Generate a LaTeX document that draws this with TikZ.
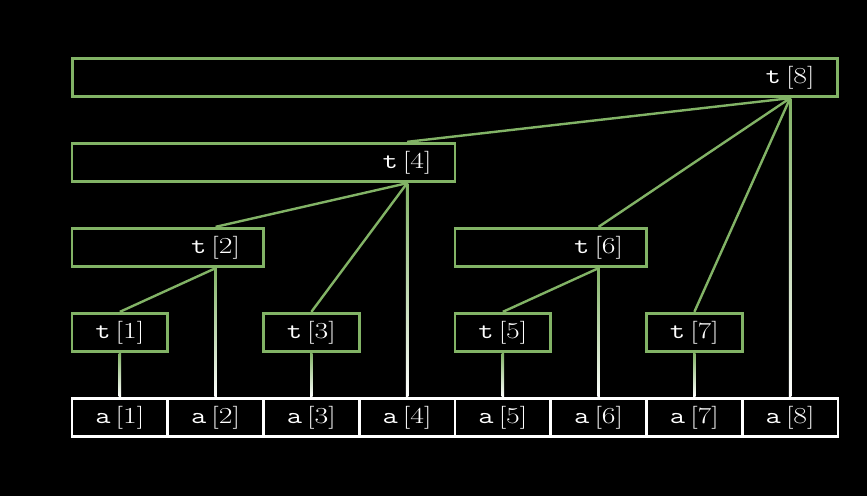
\documentclass[tikz,border=0pt]{standalone}
\usepackage{graphicx}
\begin{document}
\definecolor{tgreen}{HTML}{82B366}
\begin{tikzpicture}[x=1bp,y=-1bp,
  tbox/.style={draw=tgreen,line width=2.8bp,inner sep=0,minimum height=38.5bp},
  abox/.style={draw=white,line width=2.8bp,inner sep=0,minimum height=38.5bp,minimum width=95.75bp},
  lbl/.style={text=white,inner sep=0,font=\fontsize{23}{26}\selectfont},
  glink/.style={draw=tgreen,line width=2.4bp},
  vlink/.style={top color=tgreen,bottom color=white,draw=none}]
\fill[black] (0,0) rectangle (867,496);
\useasboundingbox (0,0) rectangle (867,496);
\newcommand{\labt}[2]{\scalebox{1.3}[1]{\texttt{#1}\,[#2]}}
% a row
\foreach \i in {1,...,8}{
  \node[abox] (a\i) at ({72+95.75*(\i-0.5)},417.5) {};
  \node[lbl] (al\i) at (a\i) {\labt{a}{\i}};
}
% t boxes
\node[tbox,minimum width=765bp] (t8) at ({72+95.75*4},77.5) {};
\node[tbox,minimum width=383bp] (t4) at ({72+95.75*2},162.5) {};
\node[tbox,minimum width=191.5bp] (t2) at ({72+95.75*1},247.5) {};
\node[tbox,minimum width=191.5bp] (t6) at ({72+95.75*5},247.5) {};
\node[tbox,minimum width=95.75bp] (t1) at ({72+95.75*0.5},332.5) {};
\node[tbox,minimum width=95.75bp] (t3) at ({72+95.75*2.5},332.5) {};
\node[tbox,minimum width=95.75bp] (t5) at ({72+95.75*4.5},332.5) {};
\node[tbox,minimum width=95.75bp] (t7) at ({72+95.75*6.5},332.5) {};
\node[lbl] (tl8) at (a8 |- t8) {\labt{t}{8}};
\node[lbl] (tl4) at (a4 |- t4) {\labt{t}{4}};
\node[lbl] (tl2) at (a2 |- t2) {\labt{t}{2}};
\node[lbl] (tl6) at (a6 |- t6) {\labt{t}{6}};
\node[lbl] (tl1) at (a1 |- t1) {\labt{t}{1}};
\node[lbl] (tl3) at (a3 |- t3) {\labt{t}{3}};
\node[lbl] (tl5) at (a5 |- t5) {\labt{t}{5}};
\node[lbl] (tl7) at (a7 |- t7) {\labt{t}{7}};
% green links
\draw[glink] (tl8 |- t8.south) -- (tl4 |- t4.north);
\draw[glink] (tl8 |- t8.south) -- (tl6 |- t6.north);
\draw[glink] (tl8 |- t8.south) -- (tl7 |- t7.north);
\draw[glink] (tl4 |- t4.south) -- (tl2 |- t2.north);
\draw[glink] (tl4 |- t4.south) -- (tl3 |- t3.north);
\draw[glink] (tl2 |- t2.south) -- (tl1 |- t1.north);
\draw[glink] (tl6 |- t6.south) -- (tl5 |- t5.north);
% vertical links to a
\foreach \i in {1,...,8}{
  \shade[vlink] ([xshift=-1.2bp]tl\i |- t\i.south) rectangle ([xshift=1.2bp]al\i |- a\i.north);
}
\end{tikzpicture}
\end{document}
